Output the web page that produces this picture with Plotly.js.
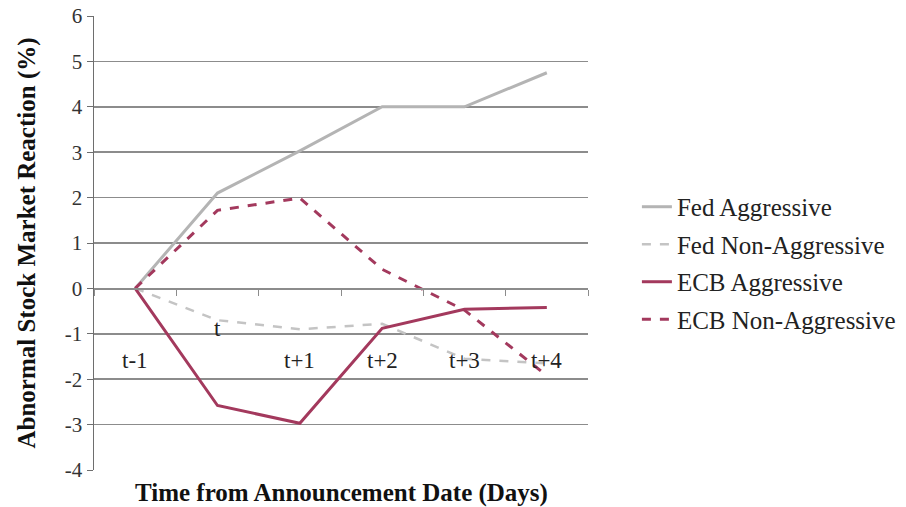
<!DOCTYPE html>
<html>
<head>
<meta charset="utf-8">
<script src="https://cdn.plot.ly/plotly-3.0.1.min.js"></script>
<style>html,body{margin:0;padding:0;background:#fff;}#chart{width:906px;height:507px;}</style>
</head>
<body>
<div id="chart"></div>
<script>
const categories = ["t-1", "t", "t+1", "t+2", "t+3", "t+4"];
const fedAggressive = [0, 2.1, 3.03, 4.0, 4.0, 4.75];
const fedNonAggressive = [0, -0.7, -0.9, -0.78, -1.55, -1.65];
const ecbAggressive = [0, -2.58, -2.97, -0.88, -0.46, -0.42];
const ecbNonAggressive = [0, 1.72, 1.99, 0.42, -0.48, -1.92];
const yTicks = [6, 5, 4, 3, 2, 1, 0, -1, -2, -3, -4];

const serif = "Liberation Serif, Times New Roman, serif";
const maroon = "#a3395d";

const traces = [
  {name: "Fed Aggressive", y: fedAggressive, line: {color: "#b4b4b4", width: 3}},
  {name: "Fed Non-Aggressive", y: fedNonAggressive, line: {color: "#c4c4c4", width: 2.5, dash: "dash"}},
  {name: "ECB Aggressive", y: ecbAggressive, line: {color: maroon, width: 3}},
  {name: "ECB Non-Aggressive", y: ecbNonAggressive, line: {color: maroon, width: 3, dash: "dash"}}
].map((t, i) => Object.assign({
  x: categories, type: "scatter", mode: "lines", legendgroup: "g" + i, hoverinfo: "skip"
}, t));

const catAnnotations = categories.map(c => ({
  x: c, y: 0, xref: "x", yref: "y", text: c, showarrow: false,
  yshift: c === "t" ? -40 : -72,
  font: {family: serif, size: 23, color: "#222"}
}));

const layout = {
  width: 906, height: 507,
  margin: {l: 94, r: 318, t: 16, b: 37, autoexpand: false},
  paper_bgcolor: "#fff", plot_bgcolor: "#fff",
  showlegend: true,
  legend: {
    x: 1.099, y: 0.63, xanchor: "left", yanchor: "top",
    traceorder: "grouped", tracegroupgap: 2,
    font: {family: serif, size: 25, color: "#222"},
    bgcolor: "rgba(0,0,0,0)"
  },
  xaxis: {
    type: "category", range: [-0.5, 5.5],
    anchor: "free", position: 0.4,
    showticklabels: false, showgrid: false, zeroline: false,
    showline: true, linecolor: "#8c8c8c", linewidth: 1.5,
    ticks: "outside", tickson: "boundaries", ticklen: 6, tickcolor: "#8c8c8c"
  },
  yaxis: {
    range: [-4, 6], tickvals: yTicks, ticktext: yTicks.map(String),
    showgrid: true, gridcolor: "#8c8c8c", gridwidth: 1.5, zeroline: false,
    showline: true, linecolor: "#6e6e6e", linewidth: 1.5,
    ticks: "outside", ticklen: 6, tickcolor: "#6e6e6e",
    tickfont: {family: serif, size: 21, color: "#333"},
    title: {text: "<b>Abnormal Stock Market Reaction (%)</b>", standoff: 22,
      font: {family: serif, size: 25, color: "#111"}}
  },
  annotations: catAnnotations.concat([{
    xref: "paper", yref: "paper", x: 0.5, y: 0, yshift: -23, yanchor: "middle",
    text: "<b>Time from Announcement Date (Days)</b>", showarrow: false,
    font: {family: serif, size: 25, color: "#111"}
  }])
};

Plotly.newPlot("chart", traces, layout, {displayModeBar: false, staticPlot: true});
</script>
</body>
</html>
